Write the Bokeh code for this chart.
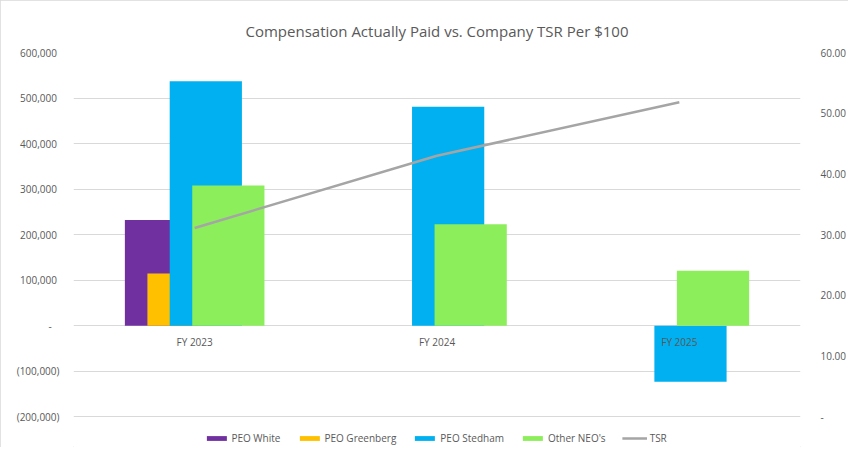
from bokeh.plotting import figure
from bokeh.models import (Range1d, LinearAxis, CustomJSTickFormatter, FixedTicker,
                          Legend, LegendItem, ColumnDataSource)
from bokeh.transform import dodge
from bokeh.core.properties import value
from bokeh.embed import file_html
from bokeh.resources import INLINE

years = ["FY 2023", "FY 2024", "FY 2025"]
peo_white = [232000, 0, 0]
peo_greenberg = [115000, 0, 0]
peo_stedham = [537000, 481000, -123000]
other_neos = [308000, 223000, 121000]
tsr = [31.1, 43.0, 51.8]

left_ticks = [-200000, -100000, 0, 100000, 200000, 300000, 400000, 500000, 600000]
right_ticks = [0, 10, 20, 30, 40, 50, 60]

src = ColumnDataSource(dict(year=years, white=peo_white, greenberg=peo_greenberg,
                            stedham=peo_stedham, other=other_neos, tsr=tsr,
                            zero=[0] * len(years)))

FONT = "Open Sans"
GRAY = "#595959"

# frame runs to the bottom so the legend can sit below the lowest gridline
p = figure(x_range=years, y_range=Range1d(-267200, 600000), width=848, height=447,
           output_backend="svg", toolbar_location=None,
           title="Compensation Actually Paid vs. Company TSR Per $100",
           min_border_left=73, min_border_right=41, min_border_top=52, min_border_bottom=0)
p.styles = {"outline": "1px solid #D9D9D9", "outline-offset": "-1px"}
p.extra_y_ranges = {"tsr": Range1d(-5.04, 60)}
p.outline_line_color = None

p.title.align = "center"
p.title.text_font = FONT
p.title.text_font_size = "15px"
p.title.text_font_style = "normal"
p.title.text_color = GRAY
p.title.standoff = 24

w = 0.298
colors = ["#7030A0", "#FFC000", "#00B0F0", "#8CEE5A"]
r_white = p.vbar(x=dodge("year", -0.139, range=p.x_range), top="white", width=w, source=src,
                 fill_color=colors[0], line_color=None)
r_green = p.vbar(x=dodge("year", -0.046, range=p.x_range), top="greenberg", width=w, source=src,
                 fill_color=colors[1], line_color=None)
r_sted = p.vbar(x=dodge("year", 0.046, range=p.x_range), top="stedham", width=w, source=src,
                fill_color=colors[2], line_color=None)
r_other = p.vbar(x=dodge("year", 0.139, range=p.x_range), top="other", width=w, source=src,
                 fill_color=colors[3], line_color=None)

# category labels sit on the zero line, as in the original
p.text(x="year", y="zero", text="year", source=src, y_offset=9,
       text_font=value(FONT), text_font_size="10px", text_color=GRAY,
       text_align="center", text_baseline="top")

r_tsr = p.line(x="year", y="tsr", source=src, y_range_name="tsr", line_color="#A5A5A5",
               line_width=2.5)

# left axis
ya = p.yaxis[0]
ya.ticker = FixedTicker(ticks=left_ticks)
ya.formatter = CustomJSTickFormatter(code="""
if (tick == 0) return "-\u00a0\u00a0\u00a0";
var s = Math.abs(tick).toLocaleString('en-US');
return tick < 0 ? "(" + s + ")" : s + "\u00a0";
""")
ya.axis_line_color = None
ya.major_tick_line_color = None
ya.minor_tick_line_color = None
ya.major_label_text_font = FONT
ya.major_label_text_font_size = "10px"
ya.major_label_text_color = GRAY
ya.major_label_standoff = 8

ra = LinearAxis(y_range_name="tsr", ticker=FixedTicker(ticks=right_ticks),
                formatter=CustomJSTickFormatter(code="""
if (tick == 0) return "-";
return tick.toFixed(2);
"""))
ra.axis_line_color = None
ra.major_tick_line_color = None
ra.minor_tick_line_color = None
ra.major_label_text_font = FONT
ra.major_label_text_font_size = "10px"
ra.major_label_text_color = GRAY
ra.major_label_standoff = 14
p.add_layout(ra, "right")

p.xaxis.visible = False

p.xgrid.grid_line_color = None
p.ygrid.grid_line_color = "#D9D9D9"
p.ygrid.ticker = FixedTicker(ticks=left_ticks)

legend = Legend(items=[
    LegendItem(label="PEO White", renderers=[r_white]),
    LegendItem(label="PEO Greenberg", renderers=[r_green]),
    LegendItem(label="PEO Stedham", renderers=[r_sted]),
    LegendItem(label="Other NEO's", renderers=[r_other]),
    LegendItem(label="TSR", renderers=[r_tsr]),
], orientation="horizontal", location="bottom_center")
legend.border_line_color = None
legend.background_fill_alpha = 0
legend.label_text_font = FONT
legend.label_text_font_size = "10px"
legend.label_text_color = GRAY
legend.glyph_width = 25
legend.glyph_height = 6
legend.label_height = 12
legend.label_standoff = 3
legend.spacing = 16
legend.padding = 4
legend.margin = 2
p.add_layout(legend)

open("out.html", "w").write(file_html(p, INLINE))
